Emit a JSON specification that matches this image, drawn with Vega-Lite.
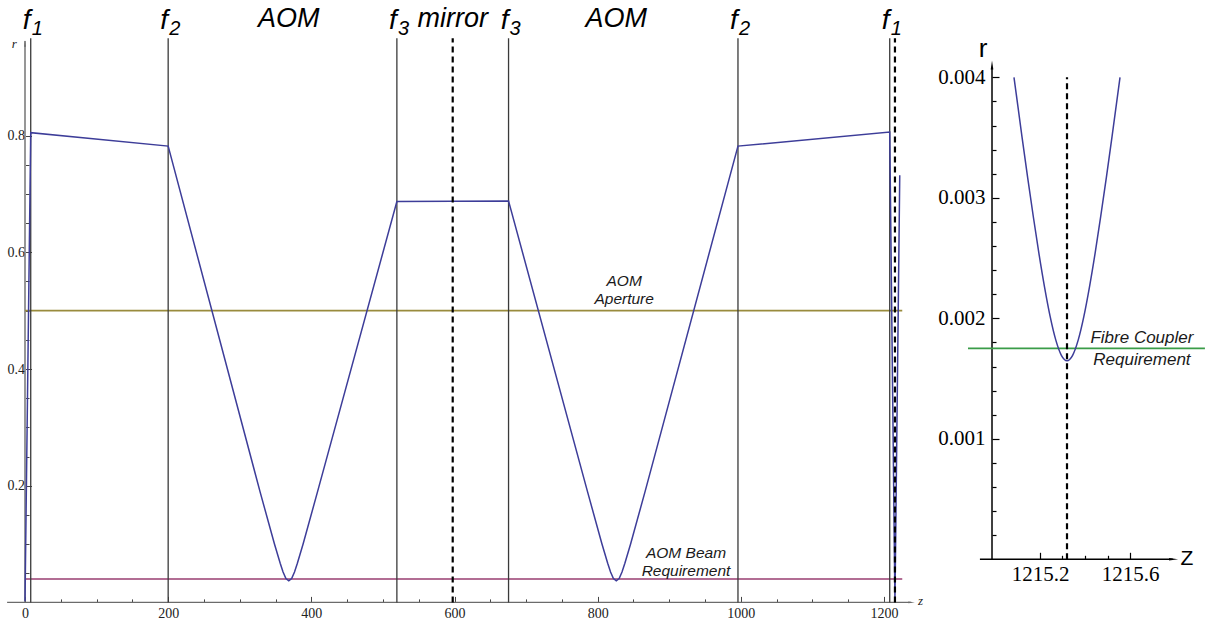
{
  "$schema": "https://vega.github.io/schema/vega-lite/v6.json",
  "width": 1212,
  "height": 625,
  "autosize": {"type": "none"},
  "padding": 0,
  "background": "white",
  "config": {"view": {"stroke": null}, "axis": {"grid": false, "domain": false, "labelFlush": false, "labelOverlap": false}},
  "layer": [
    {
      "encoding": {
        "x": {
          "field": "z", "type": "quantitative",
          "scale": {"domain": [0, 1200], "range": [25, 884], "nice": false, "zero": false},
          "axis": {
            "orient": "bottom", "offset": -22.6, "title": null,
            "values": [0, 50, 100, 150, 200, 250, 300, 350, 400, 450, 500, 550, 600, 650, 700, 750, 800, 850, 900, 950, 1000, 1050, 1100, 1150, 1200],
            "format": "d",
            "labelExpr": "datum.value % 200 === 0 ? datum.label : ''",
            "tickSize": {"condition": {"test": "datum.value % 200 === 0", "value": -6}, "value": -3.5},
            "tickColor": "#444", "tickWidth": 1,
            "labelFont": "Liberation Serif", "labelFontSize": 14, "labelColor": "#222",
            "labelPadding": 10, "labelBaseline": "top", "labelFlush": false
          }
        },
        "y": {
          "field": "r", "type": "quantitative",
          "scale": {"domain": [0, 0.8], "range": [602.4, 135.6], "nice": false, "zero": false},
          "axis": {
            "orient": "left", "offset": -25.5, "title": null,
            "values": [0.05, 0.1, 0.15, 0.2, 0.25, 0.3, 0.35, 0.4, 0.45, 0.5, 0.55, 0.6, 0.65, 0.7, 0.75, 0.8, 0.85, 0.9],
            "format": ".1f",
            "labelExpr": "indexof([0.2, 0.4, 0.6, 0.8], datum.value) >= 0 ? datum.label : ''",
            "tickSize": {"condition": {"test": "indexof([0.2, 0.4, 0.6, 0.8], datum.value) >= 0", "value": -6}, "value": -3.5},
            "tickColor": "#444", "tickWidth": 1,
            "labelFont": "Liberation Serif", "labelFontSize": 14, "labelColor": "#222",
            "labelPadding": 7, "labelFlush": false
          }
        }
      },
      "layer": [
        {
          "data": {"values": [
            {"z": -25, "r": 0, "z2": 1238, "r2": 0},
            {"z": 0, "r": 0, "z2": 0, "r2": 0.962}
          ]},
          "mark": {"type": "rule", "color": "#6b6b6b", "strokeWidth": 1.4},
          "encoding": {"x2": {"field": "z2"}, "y2": {"field": "r2"}}
        },
        {
          "data": {"values": [{"z": 0, "r": 0.956}]},
          "mark": {"type": "point", "shape": "wedge", "angle": 0, "filled": true, "color": "#6b6b6b", "opacity": 1, "size": 60}
        },
        {
          "data": {"values": [{"z": 1237, "r": 0}]},
          "mark": {"type": "point", "shape": "wedge", "angle": 90, "filled": true, "color": "#6b6b6b", "opacity": 1, "size": 60}
        },
        {
          "data": {"values": [{"z": 0, "z2": 1225.5, "r": 0.5}]},
          "mark": {"type": "rule", "color": "#998b3d", "strokeWidth": 1.6},
          "encoding": {"x2": {"field": "z2"}}
        },
        {
          "data": {"values": [{"z": 0, "z2": 1225.5, "r": 0.04}]},
          "mark": {"type": "rule", "color": "#993d71", "strokeWidth": 1.6},
          "encoding": {"x2": {"field": "z2"}}
        },
        {
          "data": {"values": [
            {"z": 8, "r": 0, "r2": 0.967},
            {"z": 200, "r": 0, "r2": 0.967},
            {"z": 519.5, "r": 0, "r2": 0.967},
            {"z": 675.5, "r": 0, "r2": 0.967},
            {"z": 996, "r": 0, "r2": 0.967},
            {"z": 1208, "r": 0, "r2": 0.967}
          ]},
          "mark": {"type": "rule", "color": "#3a3a3a", "strokeWidth": 1.3},
          "encoding": {"y2": {"field": "r2"}}
        },
        {
          "data": {"values": [
            {"z": 0, "r": 0.002}, {"z": 8, "r": 0.805}, {"z": 200, "r": 0.782},
            {"z": 328.5, "r": 0.189}, {"z": 348.5, "r": 0.1}, {"z": 356.5, "r": 0.067},
            {"z": 360.5, "r": 0.052}, {"z": 364.5, "r": 0.041}, {"z": 368.5, "r": 0.037},
            {"z": 372.5, "r": 0.041}, {"z": 376.5, "r": 0.052}, {"z": 380.5, "r": 0.067},
            {"z": 388.5, "r": 0.1}, {"z": 408.5, "r": 0.189}, {"z": 519.5, "r": 0.687},
            {"z": 675.5, "r": 0.688}, {"z": 786, "r": 0.189}, {"z": 806, "r": 0.1},
            {"z": 814, "r": 0.067}, {"z": 818, "r": 0.052}, {"z": 822, "r": 0.041},
            {"z": 826, "r": 0.037}, {"z": 830, "r": 0.041}, {"z": 834, "r": 0.052},
            {"z": 838, "r": 0.067}, {"z": 846, "r": 0.1}, {"z": 866, "r": 0.189},
            {"z": 996, "r": 0.782}, {"z": 1208, "r": 0.806}, {"z": 1215.3, "r": 0.002},
            {"z": 1222, "r": 0.732}
          ]},
          "mark": {"type": "line", "color": "#3d3d99", "strokeWidth": 1.5}
        },
        {
          "data": {"values": [
            {"z": 597.5, "r": 0, "r2": 0.967},
            {"z": 1215.3, "r": 0, "r2": 0.967}
          ]},
          "mark": {"type": "rule", "color": "#000000", "strokeWidth": 2.2, "strokeDash": [6, 4]},
          "encoding": {"y2": {"field": "r2"}}
        },
        {
          "data": {"values": [
            {"z": 8, "r": 0.9827, "t": "f"}, {"z": 200, "r": 0.9827, "t": "f"},
            {"z": 519.5, "r": 0.9827, "t": "f"}, {"z": 675.5, "r": 0.9827, "t": "f"},
            {"z": 996, "r": 0.9827, "t": "f"}, {"z": 1208, "r": 0.9827, "t": "f"}
          ]},
          "mark": {"type": "text", "font": "Liberation Sans", "fontStyle": "italic", "fontSize": 28, "align": "center", "baseline": "alphabetic", "dx": -4, "color": "#000"},
          "encoding": {"text": {"field": "t"}}
        },
        {
          "data": {"values": [
            {"z": 8, "r": 0.9827, "t": "1"}, {"z": 200, "r": 0.9827, "t": "2"},
            {"z": 519.5, "r": 0.9827, "t": "3"}, {"z": 675.5, "r": 0.9827, "t": "3"},
            {"z": 996, "r": 0.9827, "t": "2"}, {"z": 1208, "r": 0.9827, "t": "1"}
          ]},
          "mark": {"type": "text", "font": "Liberation Sans", "fontStyle": "italic", "fontSize": 20, "align": "left", "baseline": "alphabetic", "dx": 1, "dy": 6, "color": "#000"},
          "encoding": {"text": {"field": "t"}}
        },
        {
          "data": {"values": [
            {"z": 368.5, "r": 0.986, "t": "AOM"},
            {"z": 597.5, "r": 0.986, "t": "mirror"},
            {"z": 826, "r": 0.986, "t": "AOM"}
          ]},
          "mark": {"type": "text", "font": "Liberation Sans", "fontStyle": "italic", "fontSize": 27, "align": "center", "baseline": "alphabetic", "color": "#000"},
          "encoding": {"text": {"field": "t"}}
        },
        {
          "data": {"values": [
            {"z": 837, "r": 0.551, "t": "AOM"},
            {"z": 837, "r": 0.52, "t": "Aperture"},
            {"z": 923.4, "r": 0.0855, "t": "AOM Beam"},
            {"z": 923.4, "r": 0.0538, "t": "Requirement"}
          ]},
          "mark": {"type": "text", "font": "Liberation Sans", "fontStyle": "italic", "fontSize": 15.5, "align": "center", "baseline": "middle", "color": "#1a1a1a"},
          "encoding": {"text": {"field": "t"}}
        },
        {
          "data": {"values": [{"z": -15, "r": 0.957, "t": "r"}]},
          "mark": {"type": "text", "font": "Liberation Serif", "fontStyle": "italic", "fontSize": 13, "align": "center", "baseline": "middle", "color": "#222"},
          "encoding": {"text": {"field": "t"}}
        },
        {
          "data": {"values": [{"z": 1251, "r": 0, "t": "z"}]},
          "mark": {"type": "text", "font": "Liberation Serif", "fontStyle": "italic", "fontSize": 13, "align": "center", "baseline": "middle", "dy": -1, "color": "#222"},
          "encoding": {"text": {"field": "t"}}
        }
      ]
    },
    {
      "encoding": {
        "x": {
          "field": "z", "type": "quantitative",
          "scale": {"domain": [1215.2, 1215.6], "range": [1040, 1130], "nice": false, "zero": false},
          "axis": {
            "orient": "bottom", "offset": -65.7, "title": null,
            "values": [1215.1, 1215.2, 1215.3, 1215.4, 1215.5, 1215.6, 1215.7],
            "format": ".1f",
            "labelExpr": "indexof([1215.2, 1215.6], datum.value) >= 0 ? datum.label : ''",
            "tickSize": {"condition": {"test": "indexof([1215.2, 1215.6], datum.value) >= 0", "value": -7}, "value": -4},
            "tickColor": "#000", "tickWidth": 1.2,
            "labelFont": "Liberation Serif", "labelFontSize": 21, "labelColor": "#000",
            "labelPadding": 11, "labelBaseline": "top", "labelFlush": false
          }
        },
        "y": {
          "field": "r", "type": "quantitative",
          "scale": {"domain": [0, 0.004], "range": [559.3, 77.3], "nice": false, "zero": false},
          "axis": {
            "orient": "left", "offset": -992, "title": null,
            "values": [0.0002, 0.0004, 0.0006, 0.0008, 0.001, 0.0012, 0.0014, 0.0016, 0.0018, 0.002, 0.0022, 0.0024, 0.0026, 0.0028, 0.003, 0.0032, 0.0034, 0.0036, 0.0038, 0.004],
            "format": ".3f",
            "labelExpr": "indexof([0.001, 0.002, 0.003, 0.004], datum.value) >= 0 ? datum.label : ''",
            "tickSize": {"condition": {"test": "indexof([0.001, 0.002, 0.003, 0.004], datum.value) >= 0", "value": -7}, "value": -4},
            "tickColor": "#000", "tickWidth": 1.2,
            "labelFont": "Liberation Serif", "labelFontSize": 21, "labelColor": "#000",
            "labelPadding": 14, "labelFlush": false
          }
        }
      },
      "layer": [
        {
          "data": {"values": [
            {"z": 1214.933, "r": 0, "z2": 1215.79, "r2": 0},
            {"z": 1214.9867, "r": 0, "z2": 1214.9867, "r2": 0.00408}
          ]},
          "mark": {"type": "rule", "color": "#000", "strokeWidth": 1.5},
          "encoding": {"x2": {"field": "z2"}, "y2": {"field": "r2"}}
        },
        {
          "data": {"values": [{"z": 1214.9867, "r": 0.00409}]},
          "mark": {"type": "point", "shape": "wedge", "angle": 0, "filled": true, "color": "#000", "opacity": 1, "size": 110}
        },
        {
          "data": {"values": [{"z": 1215.787, "r": 0}]},
          "mark": {"type": "point", "shape": "wedge", "angle": 90, "filled": true, "color": "#000", "opacity": 1, "size": 110}
        },
        {
          "data": {"values": [{"z": 1214.88, "z2": 1215.933, "r": 0.00175}]},
          "mark": {"type": "rule", "color": "#3a9c48", "strokeWidth": 1.6},
          "encoding": {"x2": {"field": "z2"}}
        },
        {
          "data": {"values": [
            {"z": 1215.0844, "r": 0.004}, {"z": 1215.12, "r": 0.003506}, {"z": 1215.145, "r": 0.00317},
            {"z": 1215.17, "r": 0.002847}, {"z": 1215.195, "r": 0.002541}, {"z": 1215.22, "r": 0.002261},
            {"z": 1215.245, "r": 0.002016}, {"z": 1215.27, "r": 0.001821}, {"z": 1215.295, "r": 0.001693},
            {"z": 1215.32, "r": 0.001648}, {"z": 1215.345, "r": 0.001693}, {"z": 1215.37, "r": 0.001821},
            {"z": 1215.395, "r": 0.002016}, {"z": 1215.42, "r": 0.002261}, {"z": 1215.445, "r": 0.002541},
            {"z": 1215.47, "r": 0.002847}, {"z": 1215.495, "r": 0.00317}, {"z": 1215.52, "r": 0.003506},
            {"z": 1215.5556, "r": 0.004}
          ]},
          "mark": {"type": "line", "color": "#3d3d99", "strokeWidth": 1.5, "interpolate": "monotone"}
        },
        {
          "data": {"values": [{"z": 1215.32, "r": 0, "r2": 0.004}]},
          "mark": {"type": "rule", "color": "#000", "strokeWidth": 2.2, "strokeDash": [6, 4]},
          "encoding": {"y2": {"field": "r2"}}
        },
        {
          "data": {"values": [
            {"z": 1215.653, "r": 0.001837, "t": "Fibre Coupler"},
            {"z": 1215.653, "r": 0.001654, "t": "Requirement"}
          ]},
          "mark": {"type": "text", "font": "Liberation Sans", "fontStyle": "italic", "fontSize": 17, "align": "center", "baseline": "middle", "color": "#1a1a1a"},
          "encoding": {"text": {"field": "t"}}
        },
        {
          "data": {"values": [{"z": 1214.947, "r": 0.004168, "t": "r"}]},
          "mark": {"type": "text", "font": "Liberation Sans", "fontSize": 26, "align": "center", "baseline": "alphabetic", "color": "#000"},
          "encoding": {"text": {"field": "t"}}
        },
        {
          "data": {"values": [{"z": 1215.853, "r": 0, "t": "Z"}]},
          "mark": {"type": "text", "font": "Liberation Sans", "fontSize": 21, "align": "center", "baseline": "middle", "color": "#000"},
          "encoding": {"text": {"field": "t"}}
        }
      ]
    }
  ],
  "resolve": {"scale": {"x": "independent", "y": "independent"}, "axis": {"x": "independent", "y": "independent"}}
}
